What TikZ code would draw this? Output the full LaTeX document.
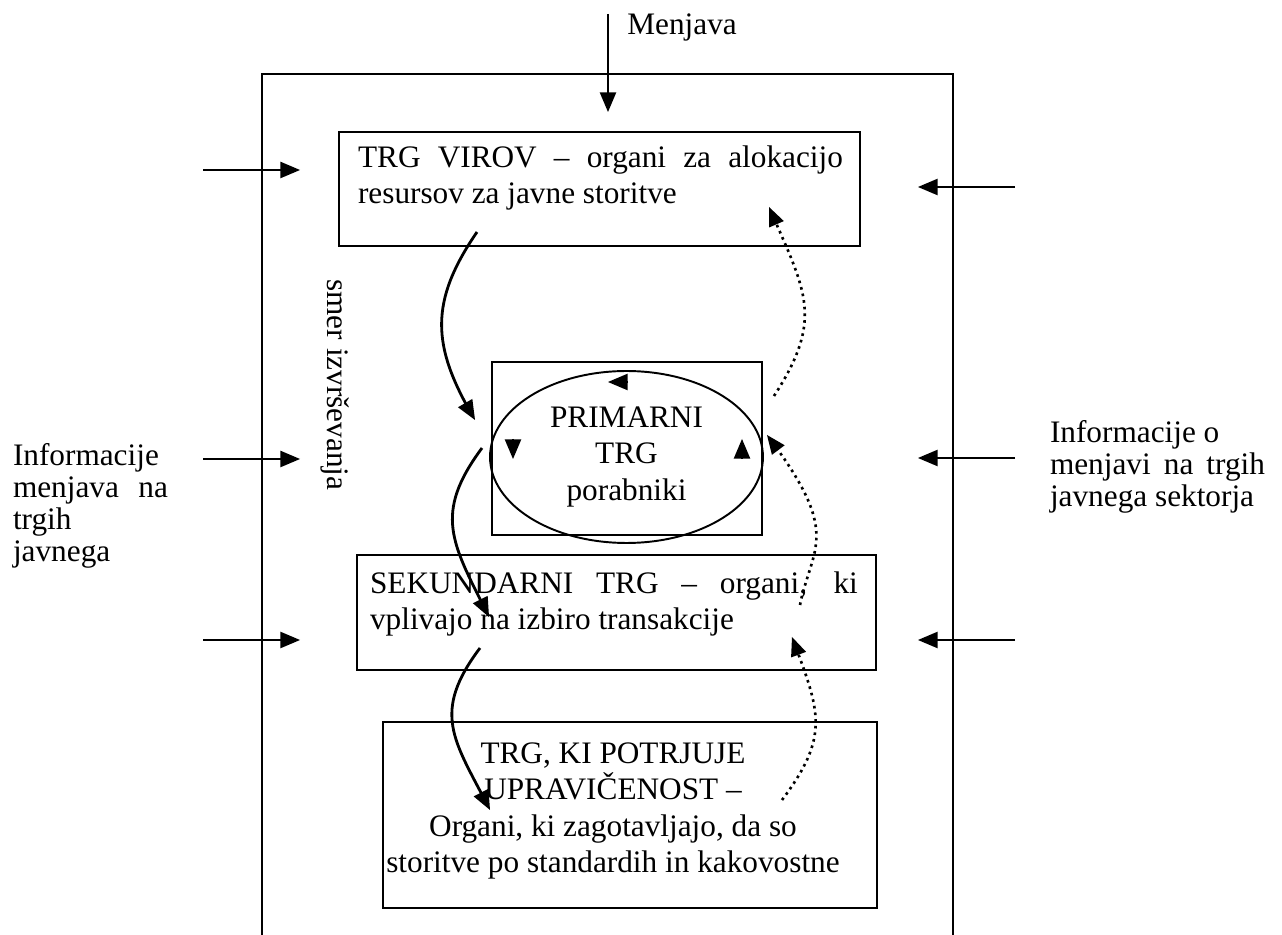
\documentclass[tikz,border=0pt]{standalone}
\usepackage{fontspec}
\setmainfont{Liberation Serif}
\usetikzlibrary{arrows,positioning,shapes.geometric}

\tolerance=10000
\hyphenpenalty=10000

\tikzset{trg/.style={draw,line width=1.1pt,inner sep=0pt},
	opis/.style={inner sep=0pt,align=justify},
}

\begin{document}
\begin{tikzpicture}[x=0.02cm,y=-0.02cm,>=triangle 45,
		font=\fontsize{17.8}{20.8}\selectfont,
		tok/.style={->,line width=1.6pt},
		nazaj/.style={->,line width=1.5pt,dash pattern=on 1.5pt off 2.3pt}]
	\useasboundingbox (0,0) rectangle (1282,935);
	
	% okvir
	\draw[line width=1.3pt] (262,935) -- (262,74) -- (953,74) -- (953,935);
	
	% trgi
	\node[trg,minimum width=10.42cm,minimum height=2.28cm] (virov) at (599.5,189) {};
	\node[opis,text width=9.7cm] (virovtxt) at (600.5,178) {TRG VIROV – organi za alokacijo resursov za javne storitve};
	\node[trg,minimum width=5.4cm,minimum height=3.46cm] (primarni) at (627,448.5) {};
	\node[trg,ellipse,minimum width=5.46cm,minimum height=3.44cm,align=center] (krog) at (626.5,457) {PRIMARNI\\TRG\\porabniki};
	\node[trg,minimum width=10.38cm,minimum height=2.3cm] (sekundarni) at (616.5,612.5) {};
	\node[opis,text width=9.76cm] (sektxt) at (614,604) {SEKUNDARNI TRG – organi, ki vplivajo na izbiro transakcije};
	\node[trg,minimum width=9.88cm,minimum height=3.72cm] (potrjuje) at (630,815) {};
	\node[align=center] (potrtxt) at (613,811) {TRG, KI POTRJUJE\\UPRAVIČENOST –\\Organi, ki zagotavljajo, da so\\storitve po standardih in kakovostne};
	
	% napisi
	\node[anchor=west,inner sep=0pt] (menjava) at (627,27) {Menjava};
	\node[rotate=-90,inner sep=0pt] (smer) at (335,385) {smer izvrševanja};
	\node[opis,text width=3.1cm,font=\fontsize{17.8}{18.2}\selectfont] (levo) at (90.5,506) {Informacije\\ menjava na\linebreak trgih\\ javnega};
	\node[opis,text width=4.3cm,font=\fontsize{17.8}{18.2}\selectfont] (desno) at (1157.5,466.5) {Informacije o\\ menjavi na trgih\linebreak javnega sektorja};
	
	% puscice od zunaj
	\coordinate (mz) at (608,14);
	\coordinate (mk) at (608,112);
	\draw[tok] (mz) -- (mk);
	\foreach \y [count=\i] in {170,459,640} {
		\coordinate (lz\i) at (203,\y);
		\coordinate (lk\i) at (300,\y);
		\draw[tok] (lz\i) -- (lk\i);
	}
	\foreach \y [count=\i] in {187,458,640} {
		\coordinate (dz\i) at (1015,\y);
		\coordinate (dk\i) at (918,\y);
		\draw[tok] (dz\i) -- (dk\i);
	}
	
	% krozenje v primarnem trgu
	\draw[tok] ([shift={(1.5,-75)}]krog.center) -- ([shift={(-18.5,-75)}]krog.center);
	\draw[tok] ([shift={(-113.5,-18)}]krog.center) -- ([shift={(-113.5,2)}]krog.center);
	\draw[tok] ([shift={(115.5,2)}]krog.center) -- ([shift={(115.5,-18)}]krog.center);
	
	% smer izvrsevanja
	\coordinate (virov-iz) at (477,232);
	\coordinate (prim-v) at (475,420);
	\coordinate (prim-iz) at (482,448);
	\coordinate (sek-v) at (489,617);
	\coordinate (sek-iz) at (480,648);
	\coordinate (potr-v) at (490,810);
	\draw[tok] (virov-iz) .. controls (429,302) and (432,346) .. (prim-v);
	\draw[tok] (prim-iz) .. controls (433,514) and (452,543) .. (sek-v);
	\draw[tok] (sek-iz) .. controls (431,713) and (454,740) .. (potr-v);
	
	% povratne informacije
	\coordinate (prim-nazaj) at (774,396);
	\coordinate (virov-nazaj) at (769,207);
	\coordinate (sek-nazaj) at (800,605);
	\coordinate (prim-nazaj-v) at (767,435);
	\coordinate (potr-nazaj) at (782,800);
	\coordinate (sek-nazaj-v) at (792,637);
	\draw[nazaj] (prim-nazaj) .. controls (824,319) and (806,292) .. (virov-nazaj);
	\draw[nazaj] (sek-nazaj) .. controls (812,546) and (842,535) .. (prim-nazaj-v);
	\draw[nazaj] (potr-nazaj) .. controls (830,736) and (820,712) .. (sek-nazaj-v);
\end{tikzpicture}
\end{document}
